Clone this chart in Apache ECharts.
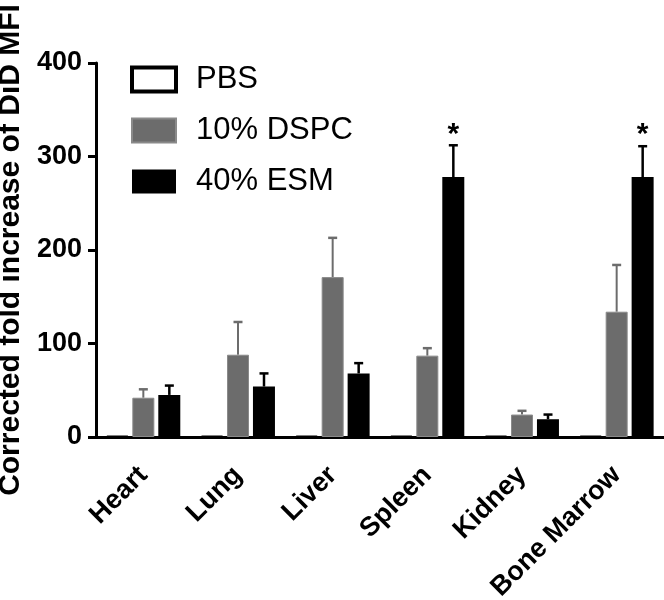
<!DOCTYPE html>
<html>
<head>
<meta charset="utf-8">
<script src="https://cdn.jsdelivr.net/npm/echarts@6/dist/echarts.min.js"></script>
<style>html,body{margin:0;padding:0;background:#fff}#c{width:664px;height:600px}</style>
</head>
<body>
<div id="c"></div>
<script>
var categories = ['Heart', 'Lung', 'Liver', 'Spleen', 'Kidney', 'Bone Marrow'];
var seriesNames = ['PBS', '10% DSPC', '40% ESM'];
var pbsMean = [1, 1, 1, 1, 1, 1];
var dspcMean = [42, 88, 171, 87, 24, 134];
var dspcSD = [9, 35, 42, 8, 4, 50];
var esmMean = [45, 54, 68, 278, 19, 278];
var esmSD = [10, 14, 11, 34, 5, 33];
var esmSig = ['', '', '', '*', '', '*'];
var yTicks = [0, 100, 200, 300, 400];

var FONT = 'Liberation Sans, Arial, sans-serif';
var BAR_W = 22, BAR_GAP_PX = 4;

function errData(mean, sd, sig) {
  return mean.map(function (m, i) { return [i, m, m + sd[i], sig ? sig[i] : '']; });
}
function errRender(offsetIdx, color, lw) {
  return function (params, api) {
    var i = api.value(0);
    var base = api.coord([i, api.value(1)]);
    var top = api.coord([i, api.value(2)]);
    var x = base[0] + offsetIdx * (BAR_W + BAR_GAP_PX);
    var children = [
      { type: 'line', shape: { x1: x, y1: base[1], x2: x, y2: top[1] }, style: { stroke: color, lineWidth: lw } },
      { type: 'line', shape: { x1: x - 4.5, y1: top[1], x2: x + 4.5, y2: top[1] }, style: { stroke: color, lineWidth: 2.5 } }
    ];
    var s = api.value(3);
    if (s) {
      children.push({ type: 'text', x: x, y: top[1] - 11, style: { text: s, fill: '#000', font: 'bold 30px ' + FONT, align: 'center', verticalAlign: 'middle' } });
    }
    return { type: 'group', children: children };
  };
}

var chart = echarts.init(document.getElementById('c'));
chart.setOption({
  animation: false,
  textStyle: { fontFamily: FONT },
  grid: { left: 96, right: 0, top: 63, bottom: 163, containLabel: false, outerBoundsMode: 'none' },
  legend: {
    orient: 'vertical', left: 125, top: 59, icon: 'rect',
    itemWidth: 44, itemHeight: 24, itemGap: 20,
    textStyle: { fontSize: 31, color: '#000', fontFamily: FONT, lineHeight: 30, padding: [0, 0, 0, 15] },
    data: [
      { name: 'PBS', itemStyle: { color: '#fff', borderColor: '#000', borderWidth: 4 } },
      { name: '10% DSPC' },
      { name: '40% ESM' }
    ]
  },
  xAxis: {
    type: 'category', data: categories,
    axisLine: { lineStyle: { color: '#000', width: 3 } },
    axisTick: { alignWithLabel: true, length: 10, lineStyle: { width: 3, color: '#000' } },
    axisLabel: { interval: 0, rotate: 45, margin: 34, color: '#000', fontWeight: 'bold', fontSize: 27, fontFamily: FONT }
  },
  yAxis: {
    type: 'value', min: yTicks[0], max: yTicks[yTicks.length - 1], interval: 100,
    name: 'Corrected fold increase of DiD MFI', nameLocation: 'middle', nameGap: 65,
    nameTextStyle: { color: '#000', fontWeight: 'bold', fontSize: 30, fontFamily: FONT },
    axisLine: { show: true, onZero: false, lineStyle: { color: '#000', width: 3 } },
    axisTick: { show: true, length: 8, lineStyle: { width: 3, color: '#000' } },
    splitLine: { show: false },
    axisLabel: { margin: 14, color: '#000', fontWeight: 'bold', fontSize: 27, fontFamily: FONT }
  },
  series: [
    { name: seriesNames[0], type: 'bar', data: pbsMean, barWidth: BAR_W, barGap: '18%',
      itemStyle: { color: '#fff', borderColor: '#000', borderWidth: 2 } },
    { name: seriesNames[1], type: 'bar', data: dspcMean, barWidth: BAR_W, barGap: '18%',
      itemStyle: { color: '#6c6c6c', borderColor: '#8a8a8a', borderWidth: 1 } },
    { name: seriesNames[2], type: 'bar', data: esmMean, barWidth: BAR_W, barGap: '18%',
      itemStyle: { color: '#000' } },
    { name: 'err-dspc', type: 'custom', data: errData(dspcMean, dspcSD), renderItem: errRender(0, '#6c6c6c', 2), z: 1 },
    { name: 'err-esm', type: 'custom', data: errData(esmMean, esmSD, esmSig), renderItem: errRender(1, '#000', 2.5), z: 1 }
  ]
});
</script>
</body>
</html>
